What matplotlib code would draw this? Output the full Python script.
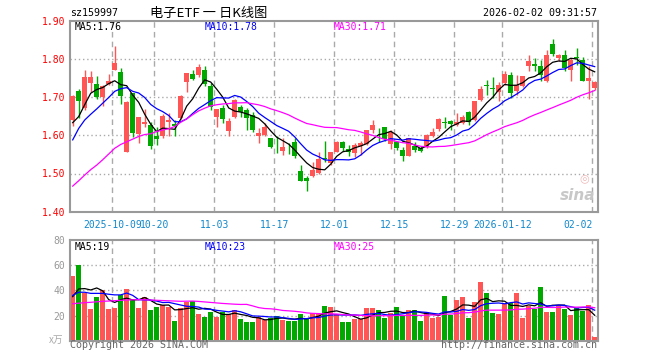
import numpy as np
import pandas as pd
import matplotlib
matplotlib.use("Agg")
import matplotlib.pyplot as plt

# ---------------- data ----------------
opens = [1.640, 1.717, 1.672, 1.736, 1.735, 1.701, 1.735, 1.772, 1.765, 1.557,
         1.710, 1.603, 1.630, 1.628, 1.597, 1.597, 1.634, 1.629, 1.644, 1.740,
         1.760, 1.757, 1.771, 1.730, 1.647, 1.671, 1.610, 1.649, 1.675, 1.667,
         1.653, 1.599, 1.600, 1.594, 1.565, 1.560, 1.562, 1.583, 1.507, 1.487,
         1.494, 1.502, 1.540, 1.528, 1.557, 1.583, 1.564, 1.553, 1.573, 1.576,
         1.614, 1.615, 1.622, 1.578, 1.582, 1.561, 1.546, 1.573, 1.568, 1.569,
         1.599, 1.616, 1.636, 1.638, 1.627, 1.633, 1.660, 1.640, 1.693, 1.731,
         1.725, 1.713, 1.737, 1.757, 1.717, 1.728, 1.781, 1.787, 1.781, 1.741,
         1.838, 1.803, 1.809, 1.772, 1.805, 1.798, 1.741, 1.724]
highs = [1.705, 1.722, 1.770, 1.769, 1.756, 1.732, 1.760, 1.835, 1.776, 1.689,
         1.712, 1.649, 1.668, 1.635, 1.622, 1.657, 1.659, 1.640, 1.705, 1.764,
         1.770, 1.787, 1.782, 1.736, 1.670, 1.680, 1.646, 1.695, 1.680, 1.671,
         1.662, 1.618, 1.631, 1.594, 1.597, 1.592, 1.579, 1.592, 1.522, 1.493,
         1.531, 1.555, 1.585, 1.556, 1.584, 1.585, 1.575, 1.579, 1.585, 1.614,
         1.640, 1.620, 1.622, 1.614, 1.583, 1.570, 1.594, 1.582, 1.572, 1.604,
         1.618, 1.645, 1.649, 1.640, 1.658, 1.654, 1.664, 1.691, 1.728, 1.746,
         1.752, 1.739, 1.768, 1.766, 1.757, 1.755, 1.811, 1.803, 1.798, 1.823,
         1.851, 1.814, 1.822, 1.803, 1.829, 1.804, 1.781, 1.741]
lows = [1.625, 1.646, 1.665, 1.713, 1.696, 1.678, 1.732, 1.770, 1.683, 1.555,
        1.596, 1.580, 1.622, 1.563, 1.574, 1.594, 1.598, 1.597, 1.642, 1.714,
        1.745, 1.752, 1.730, 1.666, 1.622, 1.632, 1.598, 1.646, 1.649, 1.614,
        1.609, 1.581, 1.598, 1.567, 1.553, 1.548, 1.550, 1.541, 1.481, 1.454,
        1.491, 1.500, 1.531, 1.522, 1.555, 1.559, 1.546, 1.544, 1.548, 1.575,
        1.605, 1.583, 1.585, 1.563, 1.561, 1.532, 1.545, 1.555, 1.557, 1.568,
        1.596, 1.610, 1.618, 1.614, 1.625, 1.630, 1.627, 1.638, 1.689, 1.706,
        1.698, 1.690, 1.732, 1.697, 1.706, 1.726, 1.768, 1.769, 1.743, 1.739,
        1.807, 1.794, 1.768, 1.741, 1.785, 1.741, 1.696, 1.719]
closes = [1.702, 1.691, 1.752, 1.753, 1.701, 1.728, 1.742, 1.790, 1.702, 1.687,
          1.605, 1.647, 1.635, 1.571, 1.590, 1.651, 1.641, 1.625, 1.703, 1.762,
          1.747, 1.780, 1.734, 1.674, 1.669, 1.643, 1.638, 1.693, 1.661, 1.646,
          1.614, 1.607, 1.622, 1.569, 1.563, 1.569, 1.561, 1.547, 1.481, 1.480,
          1.509, 1.539, 1.539, 1.555, 1.583, 1.568, 1.555, 1.575, 1.579, 1.614,
          1.627, 1.613, 1.590, 1.608, 1.566, 1.546, 1.592, 1.561, 1.560, 1.601,
          1.608, 1.643, 1.632, 1.629, 1.636, 1.649, 1.634, 1.690, 1.722, 1.729,
          1.722, 1.732, 1.761, 1.710, 1.731, 1.754, 1.794, 1.781, 1.757, 1.811,
          1.813, 1.811, 1.775, 1.798, 1.803, 1.741, 1.750, 1.739]
volumes = [51.6, 60.1, 37.6, 25.2, 35.0, 40.3, 25.2, 26.2, 36.3, 41.1,
           33.1, 26.2, 35.0, 24.4, 27.0, 28.4, 27.0, 15.6, 25.7, 31.0,
           31.8, 21.0, 19.1, 22.5, 19.1, 22.5, 21.0, 24.4, 17.2, 15.1,
           15.1, 19.1, 16.4, 18.3, 19.9, 16.4, 15.6, 15.6, 21.4, 17.8,
           21.7, 21.0, 27.8, 27.0, 21.0, 15.1, 15.1, 17.2, 17.2, 26.2,
           26.2, 24.4, 18.3, 21.7, 27.0, 20.4, 24.4, 24.4, 15.6, 22.5,
           18.3, 19.1, 35.5, 20.7, 32.3, 34.7, 18.0, 30.7, 46.6, 37.9,
           22.0, 21.2, 29.1, 29.9, 37.9, 18.0, 27.3, 25.4, 42.6, 22.8,
           22.8, 27.8, 25.4, 20.7, 26.0, 23.3, 28.1, 2.9]

# moving-average values at the start of the window (read from the chart,
# they depend on days before the visible range)
ma5_head = [1.633, 1.649, 1.680, 1.710]
ma10_head = [1.588, 1.618, 1.640, 1.655, 1.669, 1.684, 1.699, 1.715, 1.722]
ma30_head = [1.467, 1.481, 1.496, 1.510, 1.522, 1.536, 1.551, 1.566, 1.576, 1.583,
             1.590, 1.597, 1.602, 1.604, 1.610, 1.614, 1.617, 1.623, 1.634, 1.643,
             1.654, 1.664, 1.671, 1.677, 1.680, 1.682, 1.683, 1.685, 1.685]
vma5_head = [35.0, 41.1, 41.4, 40.3]
vma10_head = [36.0, 38.5, 38.5, 37.6, 37.6, 37.6, 36.9, 36.4, 36.4]
vma30_head = [29.4, 29.8, 30.2, 30.5, 30.9, 31.3, 31.5, 31.8, 32.1, 32.3,
              32.5, 32.6, 32.5, 32.3, 32.1, 31.9, 31.7, 31.5, 31.3, 31.4,
              31.5, 31.2, 30.8, 30.4, 30.0, 29.6, 29.3, 29.0, 28.8]

date_labels = ["2025-10-09", "10-20", "11-03", "11-17", "12-01", "12-15",
               "12-29", "2026-01-12", "02-02"]
date_index = [7, 14, 24, 34, 44, 54, 64, 72, 87]
price_ticks = [1.40, 1.50, 1.60, 1.70, 1.80, 1.90]
vol_ticks = [20, 40, 60, 80]

code = "sz159997"
title = "电子ETF 一 日K线图"
timestamp = "2026-02-02 09:31:57"
legend_price = ["MA5:1.76", "MA10:1.78", "MA30:1.71"]
legend_vol = ["MA5:19", "MA10:23", "MA30:25"]

# ---------------- derived ----------------
def moving(series, n, head):
    m = pd.Series(series).rolling(n).mean().to_numpy()
    m[:len(head)] = head
    return m

ma5 = moving(closes, 5, ma5_head)
ma10 = moving(closes, 10, ma10_head)
ma30 = moving(closes, 30, ma30_head)
vma5 = moving(volumes, 5, vma5_head)
vma10 = moving(volumes, 10, vma10_head)
vma30 = moving(volumes, 30, vma30_head)

o = np.array(opens); c = np.array(closes)
h = np.array(highs); l = np.array(lows)
x = np.arange(len(o))
RED = "#ff5555"
GREEN = "#00a800"
colors = [RED if cc >= oo else GREEN for oo, cc in zip(o, c)]

# ---------------- layout ----------------
W, H = 660, 360
fig = plt.figure(figsize=(W / 100, H / 100), dpi=100)
def fx(px): return px / W
def fy(py): return 1 - py / H

L, R = 70, 597.7
ax = fig.add_axes([fx(L), fy(211.7), fx(R - L), (211.7 - 20.7) / H])
axv = fig.add_axes([fx(L), fy(340.7), fx(R - L), (340.7 - 240) / H])

xl = (-0.45, 87.5)
GRID = "#aaaaaa"
SPINE = "#999999"
MONO = "DejaVu Sans Mono"
CJK = ["Noto Sans CJK SC", "DejaVu Sans"]

for a in (ax, axv):
    a.set_xlim(*xl)
    for s in a.spines.values():
        s.set_color(SPINE)
        s.set_linewidth(1.5)
    a.set_xticks([])
    a.tick_params(axis="y", length=0, pad=3.5)
    for di in date_index:
        a.axvline(di - 0.4, color=GRID, lw=1, ls=(0, (4, 3)), zorder=0)

# main price chart
ax.set_ylim(price_ticks[0], price_ticks[-1])
ax.set_yticks(price_ticks)
ax.set_yticklabels([f"{t:.2f}" for t in price_ticks], color="red",
                   fontfamily=MONO, fontsize=7)
for t in price_ticks[1:-1]:
    ax.axhline(t, color=GRID, lw=1, ls=(0, (1, 2)), zorder=0)

ax.vlines(x, l, h, colors=colors, lw=1, zorder=2)
body_bottom = np.minimum(o, c)
body_h = np.maximum(np.abs(c - o), 0.0015)
ax.bar(x, body_h, bottom=body_bottom, width=0.8, color=colors,
       linewidth=0, zorder=3)
ax.plot(x, ma5, color="black", lw=0.9, zorder=4)
ax.plot(x, ma10, color="blue", lw=0.9, zorder=4)
ax.plot(x, ma30, color="#ff00ff", lw=0.9, zorder=4)

# date labels
for lab, di in zip(date_labels, date_index):
    ha = "right" if di == date_index[-1] else "center"
    ax.text(di - 0.4, -0.045, lab, transform=ax.get_xaxis_transform(),
            ha=ha, va="top", color="#1188cc", fontfamily=MONO, fontsize=7)

# legends
leg_x = [75, 205, 334]
leg_c = ["black", "blue", "#ff00ff"]
for t, px, col in zip(legend_price, leg_x, leg_c):
    fig.text(fx(px), fy(26.5), t, color=col, fontfamily=MONO, fontsize=7,
             ha="left", va="center")
for t, px, col in zip(legend_vol, leg_x, leg_c):
    fig.text(fx(px), fy(247), t, color=col, fontfamily=MONO, fontsize=7,
             ha="left", va="center")

# watermark
ax.text(0.995, 0.045, "sina", transform=ax.transAxes, ha="right", va="bottom",
        color="#c8c8c8", fontsize=11, fontweight="bold", style="italic",
        zorder=1)
ax.text(0.975, 0.15, "◎", transform=ax.transAxes, ha="center", va="bottom",
        color="#f0b8b8", fontsize=8, fontfamily="DejaVu Sans", zorder=1)

# volume chart
axv.set_ylim(0, 80)
axv.set_yticks(vol_ticks)
axv.set_yticklabels([str(t) for t in vol_ticks], color="#999999",
                    fontfamily=MONO, fontsize=7)
for t in vol_ticks[:-1]:
    axv.axhline(t, color=GRID, lw=1, ls=(0, (1, 2)), zorder=0)
axv.bar(x, volumes, width=0.83, color=colors, linewidth=0, zorder=2)
axv.plot(x, vma5, color="black", lw=0.9, zorder=4)
axv.plot(x, vma10, color="blue", lw=0.9, zorder=4)
axv.plot(x, vma30, color="#ff00ff", lw=0.9, zorder=4)

fig.text(fx(63), fy(340), "x万", color="#aaaaaa", fontsize=7,
         family=CJK, style="italic", ha="right", va="center")

# header & footer texts
fig.text(fx(70), fy(13.5), code, fontfamily=MONO, fontsize=7.2, ha="left",
         va="center", color="black")
fig.text(fx(150), fy(13.5), title, family=CJK,
         fontsize=9.5, ha="left", va="center", color="black")
fig.text(fx(597), fy(13.5), timestamp, fontfamily=MONO, fontsize=7.2,
         ha="right", va="center", color="black")
fig.text(fx(70), fy(345.5), "Copyright 2026 SINA.COM", fontfamily=MONO,
         fontsize=7.2, ha="left", va="center", color="#666666")
fig.text(fx(597), fy(345.5), "http://finance.sina.com.cn", fontfamily=MONO,
         fontsize=7.2, ha="right", va="center", color="#666666")

fig.savefig("out.png", dpi=100)
